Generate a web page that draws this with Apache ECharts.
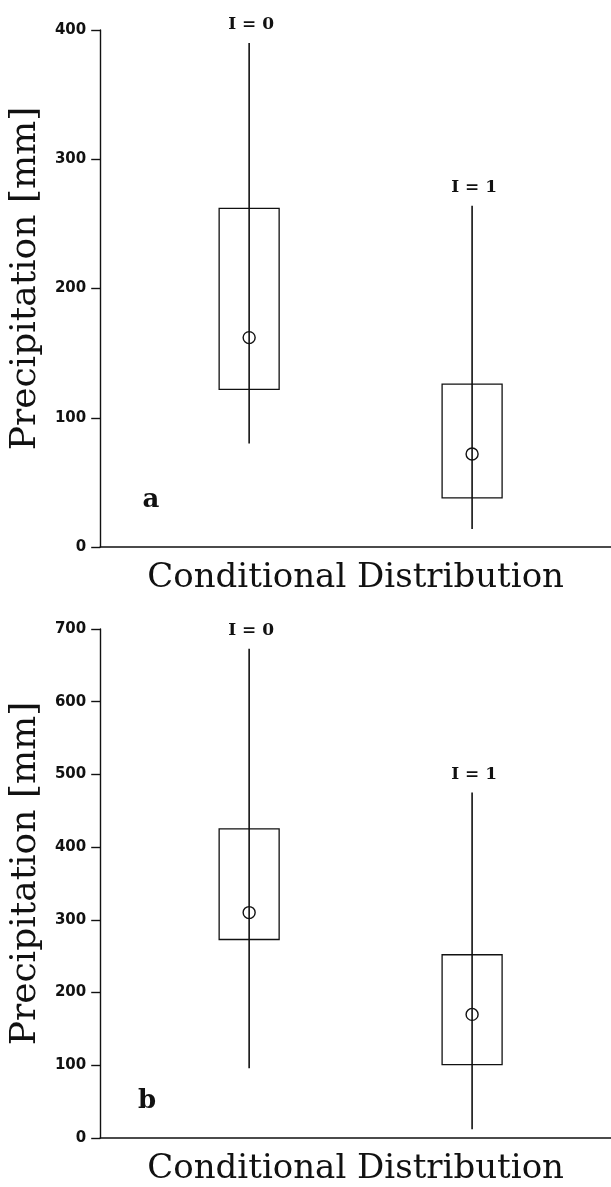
<!DOCTYPE html>
<html>
<head>
<meta charset="utf-8">
<script src="https://cdn.jsdelivr.net/npm/echarts@6/dist/echarts.min.js"></script>
<style>
html,body{margin:0;padding:0;background:#fff;}
#c{width:611px;height:1187px;}
</style>
</head>
<body>
<div id="c"></div>
<script>
// ---- data ----
const groupLabels = ['I = 0', 'I = 1'];
const panelTags = ['a', 'b'];
const yTicksA = [0, 100, 200, 300, 400];
const yTicksB = [0, 100, 200, 300, 400, 500, 600, 700];
// panel a
const lowA = [80, 14];
const q1A = [122, 38];
const medA = [162, 72];
const q3A = [262, 126];
const highA = [390, 264];
// panel b
const lowB = [96, 12];
const q1B = [273, 101];
const medB = [310, 170];
const q3B = [425, 252];
const highB = [673, 475];

const xName = 'Conditional Distribution';
const yName = 'Precipitation [mm]';

function build(low, q1, med, q3, high) {
  return groupLabels.map((_, i) => [i, low[i], q1[i], med[i], q3[i], high[i]]);
}

const INK = '#111';

function renderBox(params, api) {
  const i = api.value(0);
  const pLow = api.coord([i, api.value(1)]);
  const pQ1 = api.coord([i, api.value(2)]);
  const pMed = api.coord([i, api.value(3)]);
  const pQ3 = api.coord([i, api.value(4)]);
  const pHigh = api.coord([i, api.value(5)]);
  const half = 30;
  const x = pMed[0];
  return {
    type: 'group',
    children: [
      { type: 'rect', shape: { x: x - half, y: pQ3[1], width: 2 * half, height: pQ1[1] - pQ3[1] },
        style: { fill: 'none', stroke: INK, lineWidth: 1.3 } },
      { type: 'line', shape: { x1: x, y1: pHigh[1], x2: x, y2: pLow[1] },
        style: { stroke: INK, lineWidth: 1.6 } },
      { type: 'circle', shape: { cx: x, cy: pMed[1], r: 6 },
        style: { fill: 'none', stroke: INK, lineWidth: 1.4 } },
      { type: 'text', x: x + 2, y: pHigh[1] - 10,
        style: { text: groupLabels[i], align: 'center', verticalAlign: 'bottom',
                 fontSize: 17, fontWeight: 'bold', fontFamily: 'DejaVu Serif', fill: INK } }
    ]
  };
}

function yAxis(ticks, gridIndex) {
  return {
    type: 'value', gridIndex: gridIndex,
    min: ticks[0], max: ticks[ticks.length - 1], interval: ticks[1] - ticks[0],
    name: yName, nameLocation: 'middle', nameGap: 50, nameRotate: 90,
    nameTextStyle: { fontFamily: 'DejaVu Serif', fontSize: 36, color: INK, padding: [0, 0, 0, 20] },
    axisLine: { show: true, onZero: false, lineStyle: { color: INK, width: 1.4 } },
    axisTick: { show: true, inside: false, length: 9, lineStyle: { color: INK, width: 1.4 } },
    axisLabel: { margin: 14, fontFamily: 'DejaVu Sans', fontWeight: 'bold', fontSize: 15, color: INK },
    splitLine: { show: false }
  };
}

function xAxis(gridIndex) {
  return {
    type: 'value', gridIndex: gridIndex, min: -0.668, max: 1.623,
    name: xName, nameLocation: 'middle', nameGap: 14,
    nameTextStyle: { fontFamily: 'DejaVu Serif', fontSize: 34, color: INK, verticalAlign: 'top' },
    axisLine: { show: true, onZero: false, lineStyle: { color: INK, width: 1.6 } },
    axisTick: { show: false }, axisLabel: { show: false }, splitLine: { show: false }
  };
}

const chart = echarts.init(document.getElementById('c'), null, { renderer: 'canvas' });
chart.setOption({
  backgroundColor: '#fff',
  animation: false,
  grid: [
    { left: 100, top: 30, width: 511, height: 517 },
    { left: 100, top: 629, width: 511, height: 517 }
  ],
  xAxis: [xAxis(0), xAxis(1)],
  yAxis: [yAxis(yTicksA, 0), yAxis(yTicksB, 1)],
  graphic: [
    { type: 'text', x: 151, y: 500, style: { text: panelTags[0], align: 'center', verticalAlign: 'middle',
      fontFamily: 'DejaVu Serif', fontWeight: 'bold', fontSize: 26, fill: INK } },
    { type: 'text', x: 147, y: 1101, style: { text: panelTags[1], align: 'center', verticalAlign: 'middle',
      fontFamily: 'DejaVu Serif', fontWeight: 'bold', fontSize: 26, fill: INK } }
  ],
  series: [
    { type: 'custom', xAxisIndex: 0, yAxisIndex: 0, renderItem: renderBox,
      data: build(lowA, q1A, medA, q3A, highA), clip: false },
    { type: 'custom', xAxisIndex: 1, yAxisIndex: 1, renderItem: renderBox,
      data: build(lowB, q1B, medB, q3B, highB), clip: false }
  ]
});
</script>
</body>
</html>
